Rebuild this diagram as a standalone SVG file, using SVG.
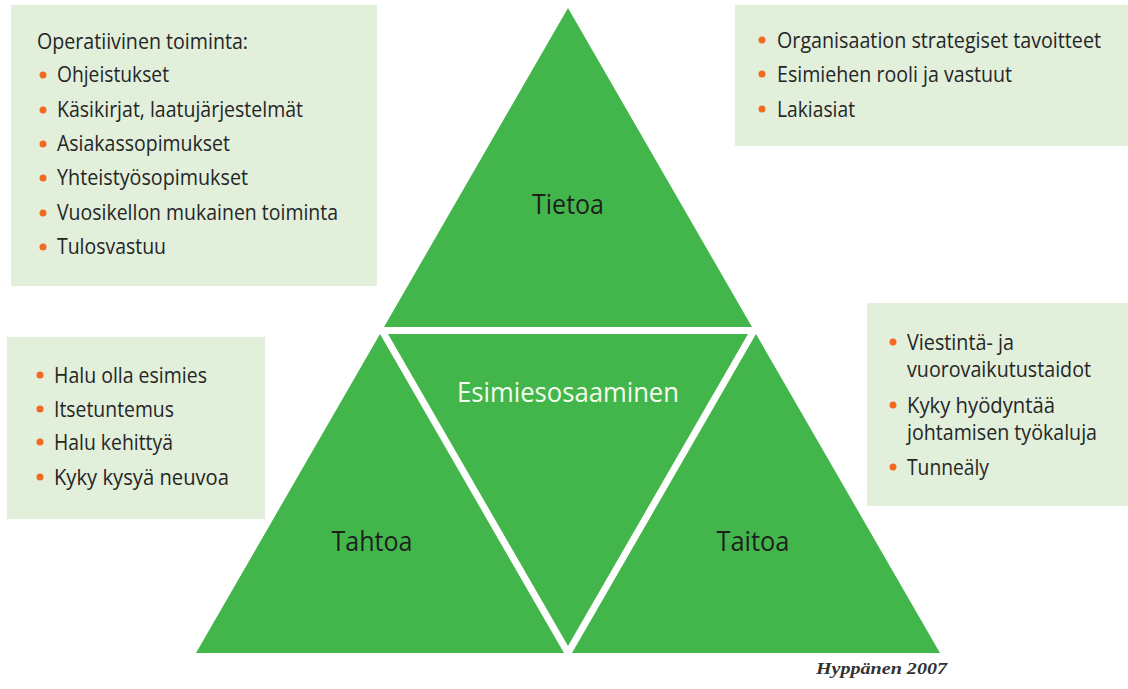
<svg xmlns="http://www.w3.org/2000/svg" width="1128" height="689" viewBox="0 0 1128 689">
<style>
.box{fill:#e1efdb}
.tri{fill:#43b64b}
.t{font-family:"Open Sans","Noto Sans",sans-serif;font-size:21px;fill:#262626}
.lbl{font-family:"Open Sans","Noto Sans",sans-serif;font-size:28px;fill:#1e1e1e;text-anchor:middle}
.b{fill:#f26a21}
</style>
<rect width="1128" height="689" fill="#ffffff"/>
<g id="tri-tietoa">
<polygon class="tri" points="568,8 752,327 384,327"/>
<text class="lbl" x="568" y="214" textLength="72" lengthAdjust="spacingAndGlyphs">Tietoa</text>
</g>
<g id="tri-esimiesosaaminen">
<polygon class="tri" points="388,334 748,334 568,646"/>
<text class="lbl" x="568" y="402" style="fill:#f4fbef" textLength="222" lengthAdjust="spacingAndGlyphs">Esimiesosaaminen</text>
</g>
<g id="tri-tahtoa">
<polygon class="tri" points="380,334 564,653 196,653"/>
<text class="lbl" x="372" y="551" textLength="81" lengthAdjust="spacingAndGlyphs">Tahtoa</text>
</g>
<g id="tri-taitoa">
<polygon class="tri" points="756,334 940,653 572,653"/>
<text class="lbl" x="753" y="551" textLength="73" lengthAdjust="spacingAndGlyphs">Taitoa</text>
</g>
<g id="connectors"/>
<g id="box-operatiivinen">
<rect class="box" x="11" y="5" width="366" height="281"/>
<text class="t" x="37" y="49" textLength="211" lengthAdjust="spacingAndGlyphs">Operatiivinen toiminta:</text>
<circle class="b" cx="43" cy="75" r="3.5"/><text class="t" x="57" y="82" textLength="112" lengthAdjust="spacingAndGlyphs">Ohjeistukset</text>
<circle class="b" cx="43" cy="110" r="3.5"/><text class="t" x="57" y="117" textLength="246" lengthAdjust="spacingAndGlyphs">Käsikirjat, laatujärjestelmät</text>
<circle class="b" cx="43" cy="144" r="3.5"/><text class="t" x="57" y="151" textLength="173" lengthAdjust="spacingAndGlyphs">Asiakassopimukset</text>
<circle class="b" cx="43" cy="178" r="3.5"/><text class="t" x="57" y="185" textLength="191" lengthAdjust="spacingAndGlyphs">Yhteistyösopimukset</text>
<circle class="b" cx="43" cy="213" r="3.5"/><text class="t" x="57" y="220" textLength="281" lengthAdjust="spacingAndGlyphs">Vuosikellon mukainen toiminta</text>
<circle class="b" cx="43" cy="247" r="3.5"/><text class="t" x="57" y="254" textLength="109" lengthAdjust="spacingAndGlyphs">Tulosvastuu</text>
</g>
<g id="box-organisaatio">
<rect class="box" x="735" y="5" width="393" height="141"/>
<circle class="b" cx="762" cy="40" r="3.5"/><text class="t" x="777" y="48" textLength="324" lengthAdjust="spacingAndGlyphs">Organisaation strategiset tavoitteet</text>
<circle class="b" cx="762" cy="74" r="3.5"/><text class="t" x="777" y="82" textLength="235" lengthAdjust="spacingAndGlyphs">Esimiehen rooli ja vastuut</text>
<circle class="b" cx="762" cy="109" r="3.5"/><text class="t" x="777" y="117" textLength="78" lengthAdjust="spacingAndGlyphs">Lakiasiat</text>
</g>
<g id="box-halu">
<rect class="box" x="7" y="337" width="258" height="182"/>
<circle class="b" cx="40" cy="375" r="3.5"/><text class="t" x="54" y="383" textLength="153" lengthAdjust="spacingAndGlyphs">Halu olla esimies</text>
<circle class="b" cx="40" cy="409" r="3.5"/><text class="t" x="54" y="417" textLength="120" lengthAdjust="spacingAndGlyphs">Itsetuntemus</text>
<circle class="b" cx="40" cy="442" r="3.5"/><text class="t" x="54" y="450" textLength="119" lengthAdjust="spacingAndGlyphs">Halu kehittyä</text>
<circle class="b" cx="40" cy="477" r="3.5"/><text class="t" x="54" y="485" textLength="175" lengthAdjust="spacingAndGlyphs">Kyky kysyä neuvoa</text>
</g>
<g id="box-viestinta">
<rect class="box" x="867" y="303" width="261" height="203"/>
<circle class="b" cx="893" cy="342" r="3.5"/><text class="t" x="907" y="350" textLength="107" lengthAdjust="spacingAndGlyphs">Viestintä- ja</text>
<text class="t" x="907" y="377" textLength="184" lengthAdjust="spacingAndGlyphs">vuorovaikutustaidot</text>
<circle class="b" cx="893" cy="405" r="3.5"/><text class="t" x="907" y="413" textLength="148" lengthAdjust="spacingAndGlyphs">Kyky hyödyntää</text>
<text class="t" x="907" y="440" textLength="190" lengthAdjust="spacingAndGlyphs">johtamisen työkaluja</text>
<circle class="b" cx="893" cy="467" r="3.5"/><text class="t" x="907" y="475" textLength="82" lengthAdjust="spacingAndGlyphs">Tunneäly</text>
</g>
<text x="816" y="674" font-family="Liberation Serif, serif" font-size="17" font-weight="bold" font-style="italic" fill="#333333" textLength="131" lengthAdjust="spacingAndGlyphs">Hyppänen 2007</text>
</svg>
